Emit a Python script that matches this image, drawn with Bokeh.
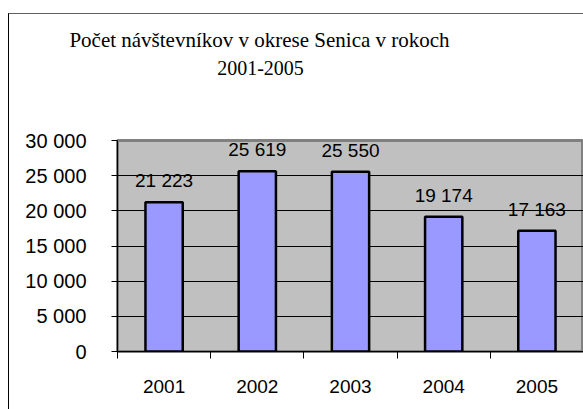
from bokeh.plotting import figure
from bokeh.layouts import column
from bokeh.models import ColumnDataSource, Range1d, FixedTicker, LabelSet, Label, Div
from bokeh.core.properties import value
from bokeh.embed import file_html
from bokeh.resources import INLINE

# ---- data ----
years = ["2001", "2002", "2003", "2004", "2005"]
visitors = [21223, 25619, 25550, 19174, 17163]
y_ticks = [0, 5000, 10000, 15000, 20000, 25000, 30000]
title_lines = ["Počet návštevníkov v okrese Senica v rokoch", "2001-2005"]


def fmt(v):
    return f"{v:,}".replace(",", " ")


n = len(years)
xs = [i + 0.5 for i in range(n)]
source = ColumnDataSource(dict(x=xs, top=visitors, label=[fmt(v) for v in visitors]))

# ---- title strip ----
tf = figure(width=574, height=111, output_backend="svg", toolbar_location=None,
            x_axis_location=None, y_axis_location=None,
            min_border_left=0, min_border_right=0, min_border_top=0, min_border_bottom=0)
if "frame_align" in tf.properties():
    tf.frame_align = False
    tf.title = None
    tf.outline_line_color = None
    tf.background_fill_color = "white"
    tf.border_fill_color = "white"
    tf.xgrid.visible = False
    tf.ygrid.visible = False
    for t, (cx, by, fs) in zip(title_lines, ((250, 86, "21px"), (251, 58, "20px"))):
        tf.add_layout(Label(x=cx, y=by, x_units="screen", y_units="screen", text=t,
                            text_align="center", text_baseline="alphabetic",
                            text_font="Liberation Serif", text_font_size=fs,
                            text_color="black"))
    head = tf
else:
    head = Div(text="<br>".join(title_lines), width=574, height=111,
               styles={"font-family": "Liberation Serif", "font-size": "21px",
                       "line-height": "28px", "text-align": "center",
                       "width": "502px", "padding-top": "16px", "color": "black"})

# ---- chart ----
p = figure(width=574, height=284, output_backend="svg", toolbar_location=None,
           x_range=Range1d(0, n), y_range=Range1d(y_ticks[0], y_ticks[-1]),
           min_border_left=108, min_border_right=0, min_border_top=15,
           min_border_bottom=58)
p.title = None
p.background_fill_color = "#C0C0C0"
p.border_fill_color = "white"
p.outline_line_color = "#808080"
p.outline_line_width = 3

# bars
p.vbar(x="x", top="top", width=0.4, source=source, fill_color="#9999FF",
       line_color="black", line_width=2.5)

# data labels
p.add_layout(LabelSet(x="x", y="top", text="label", source=source, y_offset=15,
                      text_align="center", text_baseline="alphabetic",
                      text_font=value("Liberation Sans"), text_font_size="19px",
                      text_color="black"))

# y axis
yax = p.yaxis[0]
yax.ticker = FixedTicker(ticks=y_ticks)
yax.major_label_overrides = {t: fmt(t) for t in y_ticks}
yax.major_tick_in = 0
yax.major_tick_out = 6
yax.minor_tick_line_color = None
yax.axis_line_color = "black"
yax.major_tick_line_color = "black"
yax.major_label_text_font = "Liberation Sans"
yax.major_label_text_font_size = "20px"
yax.major_label_text_color = "black"
yax.major_label_standoff = 25

# x axis
xax = p.xaxis[0]
xax.ticker = FixedTicker(ticks=xs, minor_ticks=list(range(n + 1)))
xax.major_label_overrides = {x: y for x, y in zip(xs, years)}
xax.major_tick_in = 0
xax.major_tick_out = 0
xax.minor_tick_in = 0
xax.minor_tick_out = 7
xax.minor_tick_line_color = "black"
xax.axis_line_color = "black"
xax.major_label_text_font = "Liberation Sans"
xax.major_label_text_font_size = "19px"
xax.major_label_text_color = "black"
xax.major_label_standoff = 21

# grid
p.xgrid.grid_line_color = None
p.ygrid.grid_line_color = "black"
p.ygrid.grid_line_width = 1
p.ygrid.ticker = FixedTicker(ticks=y_ticks)

layout = column(head, p, spacing=0,
                styles={"margin-left": "8px", "margin-top": "13px",
                        "border-left": "1px solid black",
                        "border-top": "1px solid #606060"})

open("out.html", "w").write(file_html(layout, INLINE))
